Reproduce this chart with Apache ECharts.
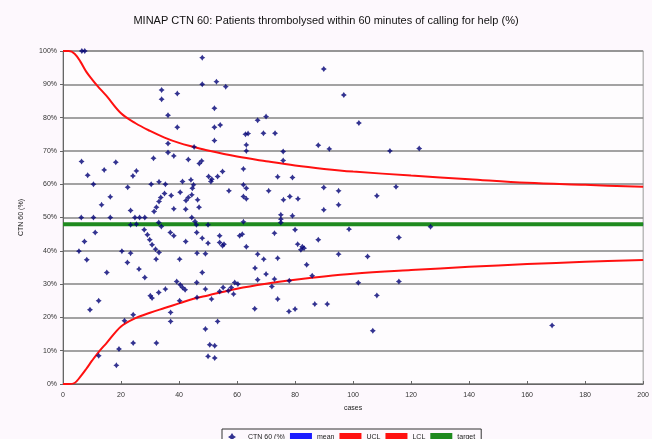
<!DOCTYPE html>
<html>
<head>
<meta charset="utf-8">
<script src="https://cdn.jsdelivr.net/npm/echarts@6/dist/echarts.min.js"></script>
<style>
  html, body { margin: 0; padding: 0; background: #fdf8fd; }
  #chart { width: 652px; height: 439px; }
</style>
</head>
<body>
<div id="chart"></div>
<script>
// Number of cases per hospital and % thrombolysed within 60 minutes of call
const caseCounts = [
  6.5, 7.5, 48, 48, 34, 34, 39.4, 36.2, 39.4, 36.2, 36.2, 38.2, 31.2, 43.2, 45.2, 47, 47.8, 6.4, 18.2, 14.2,
  25.3, 24.1, 8.5, 10.5, 22.3, 30.4, 33.1, 35.3, 41.2, 44.1, 45, 16.3, 13.3, 23.3, 31.4, 32.2, 33.1, 33.7, 35, 37.3,
  40.4, 38.2, 42.3, 42.4, 43.2, 44.4, 44.6, 46.4, 46.9, 6.3, 10.5, 16.3, 24.8, 26.4, 28.2, 44.4,
  89.9, 52.9, 56.1, 96.8, 52.2, 67.1, 70, 52.2, 54.2, 62.9, 63.8, 69.1, 73.1, 52.2, 63.2, 63.2, 75.9, 75.9, 88, 91.8,
  50.2, 51.3, 51, 53.3, 55, 62.2, 74, 79.1, 57.2, 62.2, 63.2, 62.2, 63.2, 70.9, 76, 78.2, 81, 89.9, 95, 89.9, 95,
  23.3, 25.3, 33, 33.9, 45.5, 46, 50, 11.1, 7.4, 5.5, 8.2, 20.3, 23.3, 22.2, 28, 29.1, 29.9, 30.7, 31.9, 33.1,
  32.1, 37, 38.2, 42.3, 46.1, 48, 50, 46.2, 49.1, 40.2, 15.1, 26.2, 28.2, 39.2, 40.4, 41.2, 42.1, 46.1, 48, 49.1,
  30.1, 30.7, 33, 35.3, 40.2, 46.2, 12.3, 9.3, 24.2, 21.2, 37.1, 37.1, 49.1, 24.2, 32.2, 19.3, 12.3, 18.4, 50.6, 50,
  75.1, 75.1, 75.1, 79.1, 62.2, 98.6, 54, 54, 55.5, 55, 60.9, 61.8, 63.2, 72.9, 80, 80.9, 82.5, 82, 83.1, 88,
  95, 67.1, 69.2, 74, 84, 66.2, 70, 67.1, 72.9, 78, 85.9, 72, 54, 55.2, 57, 58, 59.2, 60.3, 58.8, 51.2,
  74, 66.1, 77.9, 80, 86.8, 91.1, 53.3, 52.3, 52.3,
  102, 112.7, 122.8, 114.8, 108.2, 126.7, 115.8, 115.8, 108.2, 168.6, 106.8, 105, 101.8
];
const ctnPercent = [
  100, 100, 98, 90, 88.3, 85.5, 87.2, 80.7, 77.1, 72.2, 69.5, 68.5, 67.8, 67.4, 71.2, 66.2, 67, 66.8, 66.6, 64.3,
  64, 62.5, 62.7, 60, 59.1, 60, 60.7, 60, 60.8, 61.3, 59.8, 56.2, 53.8, 52.1, 51.8, 53.1, 54.8, 56, 57.2, 56.6,
  57.6, 52.6, 52.5, 55.1, 56, 56.8, 58.8, 55.3, 53.1, 50, 50, 50, 50, 50, 50, 50,
  94.6, 90.8, 89.3, 86.8, 82.8, 79.2, 80.3, 77.1, 77.8, 75, 75.2, 75.3, 75.3, 73.1, 71.8, 70, 69.8, 67.1, 71.7, 70.6,
  62.3, 61.5, 60.8, 62.3, 63.8, 64.6, 62.2, 62, 58, 59.8, 58.8, 56.3, 55.6, 58, 55.3, 56.3, 55.6, 59, 58, 52.3, 53.8,
  47.8, 48, 48.5, 47.3, 48.8, 47.8, 47.8, 45.5, 42.8, 39.9, 37.3, 39.9, 39.3, 36.5, 46.3, 44.8, 43.3, 41.8, 40.5, 39.5,
  37.5, 45.5, 44.5, 42.8, 45.5, 43.8, 42.3, 39.3, 39.1, 37.5, 33.5, 34.5, 32, 30.8, 29.8, 29, 28.3, 30.5, 33.5, 28.5,
  26.5, 25.8, 27.5, 28.5, 25, 26, 25, 22.3, 20.8, 19, 21.5, 18.8, 16.5, 12.3, 12.3, 10.5, 8.5, 5.6, 11.8, 8.3,
  50.8, 49.5, 48.5, 50.5, 48.7, 46.5, 44.5, 42.5, 42, 41.5, 44.5, 45, 41.2, 45.3, 46.3, 42, 41.2, 40.3, 40.8, 43.3,
  39, 39, 37.5, 37.8, 35.8, 34.8, 33, 31.3, 31.5, 31, 32.5, 29.3, 27.8, 29, 28, 29, 30.5, 30, 27, 25.5,
  25.5, 22.6, 21.8, 22.5, 24, 24, 18.8, 11.5, 7.8,
  78.4, 70, 70.7, 59.2, 56.5, 47.2, 44, 30.8, 26.6, 17.6, 16, 38.3, 30.4
];

// Control limits read along the case axis
const limitCases = [0, 2, 4, 6, 8, 10, 12, 15, 20, 25, 30, 35, 40, 45, 50, 60, 70, 80, 90, 100, 120, 140, 160, 180, 200];
const upperLimit = [100, 100, 99.2, 96.8, 93.8, 91.5, 89.4, 86.5, 81.3, 78.3, 76, 74, 72.4, 71.2, 70.1, 68.3, 66.9, 65.6, 64.6, 63.8, 62.6, 61.5, 60.4, 59.8, 59.2];
const lowerLimit = [0, 0, 0.3, 2.2, 4.5, 7, 9.3, 12.3, 17.3, 19.8, 21.4, 22.8, 24.2, 25.6, 26.6, 28.6, 30.1, 31.3, 32.3, 33.1, 34.2, 35.2, 36, 36.7, 37.2];

const meanValue = 48;
const targetValue = 48;
const xRange = [0, 200];

const yTicks = [0, 10, 20, 30, 40, 50, 60, 70, 80, 90, 100];

const seriesNames = ['CTN 60 (%)', 'mean', 'UCL', 'LCL', 'target'];

const font = 'Liberation Sans, Arial, sans-serif';
const starPath = 'path://M5,0 L7,3 L10,5 L7,7 L5,10 L3,7 L0,5 L3,3 Z';

const chart = echarts.init(document.getElementById('chart'), null, { renderer: 'canvas' });

const pairs = (xs, ys) => xs.map((x, i) => [x, ys[i]]);

chart.setOption({
  backgroundColor: '#fdf8fd',
  animation: false,
  textStyle: { fontFamily: font },
  title: {
    text: 'MINAP CTN 60: Patients thrombolysed within 60 minutes of calling for help (%)',
    left: 'center',
    top: 10,
    textStyle: { fontSize: 11, fontWeight: 'normal', color: '#111', fontFamily: font }
  },
  grid: { left: 63, right: 3, top: 51, bottom: 55, show: true, backgroundColor: '#fefcfe', borderColor: '#999', borderWidth: 1 },
  legend: {
    bottom: -10,
    left: 222,
    orient: 'horizontal',
    itemWidth: 22,
    itemHeight: 8,
    itemGap: 5,
    padding: [4, 6, 8, 6],
    borderColor: '#333',
    borderWidth: 1,
    textStyle: { fontSize: 7, color: '#222' },
    data: [
      { name: seriesNames[0], icon: starPath },
      { name: seriesNames[1], icon: 'rect' },
      { name: seriesNames[2], icon: 'rect' },
      { name: seriesNames[3], icon: 'rect' },
      { name: seriesNames[4], icon: 'rect' }
    ]
  },
  xAxis: {
    type: 'value',
    min: xRange[0],
    max: xRange[1],
    interval: 20,
    name: 'cases',
    nameLocation: 'middle',
    nameGap: 21,
    nameTextStyle: { fontSize: 7, color: '#222' },
    axisLine: { show: true, lineStyle: { color: '#666', width: 1 } },
    axisTick: { show: true, inside: true, length: 3, lineStyle: { color: '#666' } },
    axisLabel: { fontSize: 7, color: '#333', margin: 8 },
    splitLine: { show: false }
  },
  yAxis: {
    type: 'value',
    min: yTicks[0],
    max: yTicks[yTicks.length - 1],
    interval: 10,
    name: 'CTN 60 (%)',
    nameLocation: 'middle',
    nameRotate: 90,
    nameGap: 38,
    nameTextStyle: { fontSize: 7, color: '#222' },
    axisLine: { show: true, lineStyle: { color: '#666', width: 1 } },
    axisTick: { show: true, length: 3, lineStyle: { color: '#666' } },
    axisLabel: { fontSize: 7, color: '#333', margin: 6, formatter: '{value}%' },
    splitLine: { show: true, lineStyle: { color: '#858585', width: 1.5 } }
  },
  series: [
    {
      name: seriesNames[0],
      type: 'scatter',
      symbol: starPath,
      symbolSize: 6,
      itemStyle: { color: '#000075' },
      data: pairs(caseCounts, ctnPercent),
      z: 5
    },
    {
      name: seriesNames[1],
      type: 'line',
      showSymbol: false,
      lineStyle: { color: '#1a1aff', width: 2 },
      itemStyle: { color: '#1a1aff' },
      data: [[xRange[0], meanValue], [xRange[1], meanValue]],
      z: 2
    },
    {
      name: seriesNames[2],
      type: 'line',
      showSymbol: false,
      smooth: 0.35,
      lineStyle: { color: '#ff1010', width: 2 },
      itemStyle: { color: '#ff1010' },
      data: pairs(limitCases, upperLimit),
      z: 4
    },
    {
      name: seriesNames[3],
      type: 'line',
      showSymbol: false,
      smooth: 0.35,
      lineStyle: { color: '#ff1010', width: 2 },
      itemStyle: { color: '#ff1010' },
      data: pairs(limitCases, lowerLimit),
      z: 4
    },
    {
      name: seriesNames[4],
      type: 'line',
      showSymbol: false,
      lineStyle: { color: '#1f8a1f', width: 4 },
      itemStyle: { color: '#1f8a1f' },
      data: [[xRange[0], targetValue], [xRange[1], targetValue]],
      z: 3
    }
  ]
});
</script>
</body>
</html>
